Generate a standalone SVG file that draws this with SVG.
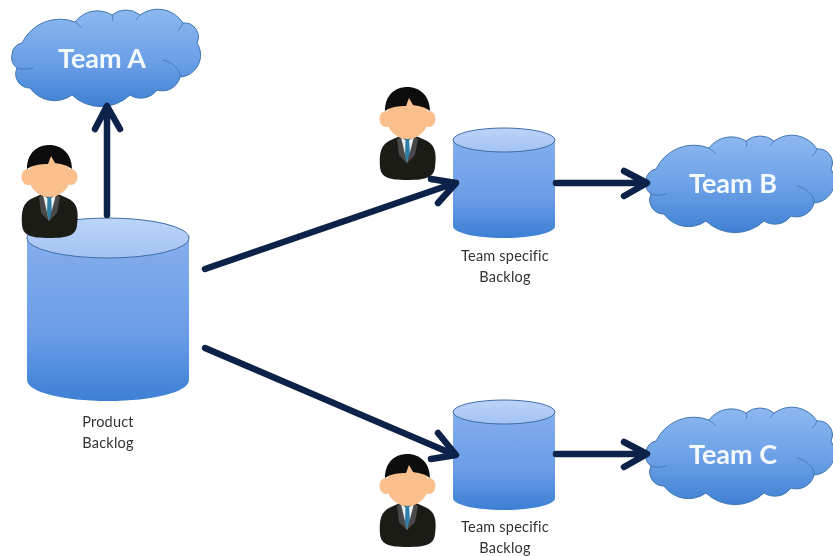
<svg xmlns="http://www.w3.org/2000/svg" xmlns:xlink="http://www.w3.org/1999/xlink" width="833" height="556" viewBox="0 0 833 556">
<style>
.cloud{fill:url(#cg);stroke:#3f74ad;stroke-width:1}
.cloudline{fill:none;stroke:#3f74ad;stroke-width:.8}
.body{fill:url(#bg);stroke:none}
.top{fill:url(#tg);stroke:#3f6ea6;stroke-width:1}
.team{font-family:Lato,"Liberation Sans",sans-serif;font-size:27px;fill:#f4f9fe;text-anchor:middle;font-weight:700}
.lab{font-family:Lato,"Liberation Sans",sans-serif;font-size:14.500px;letter-spacing:.2px;fill:#333333;text-anchor:middle}
.conn{fill:none;stroke:#0b2448;stroke-width:6.500;stroke-linecap:round;stroke-linejoin:round}
</style>
<defs>
<filter id="soft" x="-5%" y="-5%" width="110%" height="110%"><feGaussianBlur stdDeviation="0.55"/></filter>
<linearGradient id="cg" x1="0" y1="0" x2="0" y2="1"><stop offset="0" stop-color="#8db8f0"/><stop offset=".55" stop-color="#6a9fe6"/><stop offset="1" stop-color="#3f80d4"/></linearGradient>
<linearGradient id="bg" x1="0" y1="0" x2="0" y2="1"><stop offset="0" stop-color="#84aeee"/><stop offset=".6" stop-color="#6a9ce6"/><stop offset="1" stop-color="#3c7fd4"/></linearGradient>
<linearGradient id="tg" x1="0" y1="0" x2="0" y2="1"><stop offset="0" stop-color="#bcd4f8"/><stop offset="1" stop-color="#a3c2f3"/></linearGradient>
<g id="cloudShape">
<path class="cloud" d="M12 55 A12 12 0 0 1 22 43 A42 42 0 0 1 75 22 A28 28 0 0 1 112 15 A22 22 0 0 1 140 15 A30 30 0 0 1 183 23 A14 14 0 0 1 197 43 A22 22 0 0 1 180 77 A18 18 0 0 1 157 90 A20 20 0 0 1 130 95 A42 42 0 0 1 72 95 A30 30 0 0 1 30 88 A14 14 0 0 1 17 68 A12 12 0 0 1 12 55 Z"/>
<path class="cloudline" d="M17 68 C22 70 28 69 33 68 M75 22 C78 24 80 26 82 28 M112 15 C113 17 113 19 112 21 M140 15 C138 17 137 19 136 20 M183 23 C182 26 180 28 178 30 M180 77 C181 70 172 62 163 60"/>
</g>
<g id="personShape">
<path d="M1 80 C0 66 2 57 12 53 L21 49 L37 49 L46 53 C56 57 58 66 56 80 C55 90 48 93 28 93 C9 93 2 90 1 80 Z" fill="#1c1a18"/>
<path d="M22 50 L28 54 L35 50 L34 62 L28 76 L22 62 Z" fill="#e9eef0"/>
<path d="M26.500 52 L30 52 L31 68 L28 76 L26 68 Z" fill="#2f7fa8"/>
<path d="M18 52 L22 50 L28 76 L20 68 Z M39 52 L35 50 L28 76 L36 68 Z" fill="#4a4a48"/>
<ellipse cx="7" cy="32" rx="6.500" ry="8" fill="#f9bf8c"/><ellipse cx="50" cy="32" rx="6.500" ry="8" fill="#f9bf8c"/>
<ellipse cx="28.500" cy="31" rx="21" ry="21" fill="#f9bf8c"/>
<path d="M6 24 C6 8 16 0 28.500 0 C41 0 51 9 51 24 C46 20 40 19 34 18 L30 11 L27 19 C20 19 11 20 6 24 Z" fill="#0f0e0d"/>
</g>
</defs>
<rect width="833" height="556" fill="#ffffff"/>
<g filter="url(#soft)">
<g id="product-backlog">
<path class="body" d="M27 238 V380 C27 392 63 401 108 401 C153 401 189 392 189 380 V238 Z"/>
<ellipse class="top" cx="108" cy="238" rx="81" ry="20"/>
<text class="lab" x="108" y="427">Product</text>
<text class="lab" x="108" y="448">Backlog</text>
</g>
<g id="backlog-b">
<path class="body" d="M453 140 V226 C453 233 476 238 504 238 C532 238 555 233 555 226 V140 Z"/>
<ellipse class="top" cx="504" cy="140" rx="51" ry="12"/>
<text class="lab" x="505" y="261">Team specific</text>
<text class="lab" x="505" y="282">Backlog</text>
</g>
<g id="backlog-c">
<path class="body" d="M453 412 V498 C453 505 476 510 504 510 C532 510 555 505 555 498 V412 Z"/>
<ellipse class="top" cx="504" cy="412" rx="51" ry="12"/>
<text class="lab" x="505" y="532">Team specific</text>
<text class="lab" x="505" y="553">Backlog</text>
</g>
<g id="team-a"><use xlink:href="#cloudShape" href="#cloudShape"/><text class="team" x="102" y="68">Team A</text></g>
<g id="team-b"><use xlink:href="#cloudShape" href="#cloudShape" transform="translate(634 126)"/><text class="team" x="733" y="193">Team B</text></g>
<g id="team-c"><use xlink:href="#cloudShape" href="#cloudShape" transform="translate(634 398)"/><text class="team" x="733" y="464">Team C</text></g>
<g id="connectors">
<path class="conn" d="M107 215 V108 M95 129 L107 106 L120 129"/>
<path class="conn" d="M205 269 L455 183 M431 179 L456 183 L438 203"/>
<path class="conn" d="M205 348 L455 455 M438 433 L456 455 L431 459"/>
<path class="conn" d="M556 183 H646 M624 171 L647 183 L624 196"/>
<path class="conn" d="M556 454 H646 M624 442 L647 454 L624 467"/>
</g>
<g id="person-a"><use xlink:href="#personShape" href="#personShape" transform="translate(21 145)"/></g>
<g id="person-b"><use xlink:href="#personShape" href="#personShape" transform="translate(379 87)"/></g>
<g id="person-c"><use xlink:href="#personShape" href="#personShape" transform="translate(379 454)"/></g>
</g>
</svg>
